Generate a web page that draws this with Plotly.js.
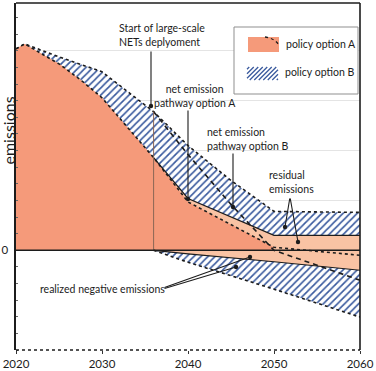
<!DOCTYPE html>
<html><head><meta charset="utf-8">
<script src="https://cdn.plot.ly/plotly-3.0.1.min.js"></script>
<style>html,body{margin:0;padding:0;background:#fff}</style>
</head><body><div id="chart" style="width:376px;height:371px"></div>
<script>
// ---- data (conceptual emissions units; gridline spacing = 1) ----
const years  = [2020, 2021, 2025, 2027.5, 2030, 2033, 2036, 2040, 2050, 2060];
const grossA = [4.04, 4.14, 3.74, 3.42, 3.06, 2.46, 1.86, 1.04, 0.30, 0.30];
const netA   = [4.04, 4.14, 3.74, 3.42, 3.06, 2.46, 1.86, 0.97, 0.06, -0.10];
const yearsB = [2020, 2021, 2025, 2030, 2033, 2036, 2040, 2045, 2050, 2060];
const grossB = [4.04, 4.14, 3.88, 3.58, 3.18, 2.78, 2.10, 1.40, 0.78, 0.76];
const netYears = [2036, 2040, 2045, 2050, 2060];
const netB   = [2.78, 1.92, 0.92, 0.00, -0.60];
const negYears = [2036, 2040, 2050, 2060];
const negA   = [0, -0.07, -0.23, -0.40];
const negB   = [0, -0.24, -0.78, -1.34];
const netsStart = 2036;
const xTicks = [2020, 2030, 2040, 2050, 2060];
const yTicks = [0, 1, 2, 3, 4];
const yTickText = ['0', '', '', '', ''];

// ---- styles ----
const DARK = '#F59A7A', LIGHT = '#F9C3A4', BLUE = '#3A5A9E', INK = '#1c1c1c';
const hatch = {shape: '/', fgcolor: BLUE, bgcolor: 'white', size: 5, solidity: 0.33, fillmode: 'replace'};

// pixel -> paper helpers for layout decorations
const L = 16, R = 360, T = 3, B = 350;
const PX = p => (p - L) / (R - L);
const PY = p => (B - p) / (B - T);

const traces = [
  {x: yearsB, y: grossB, mode: 'lines', line: {width: 0}, fill: 'tozeroy', fillcolor: 'white', fillpattern: hatch, hoverinfo: 'skip'},
  {x: negYears, y: negB, mode: 'lines', line: {width: 0}, fill: 'tozeroy', fillcolor: 'white', fillpattern: hatch, hoverinfo: 'skip'},
  {x: years, y: grossA, mode: 'lines', line: {width: 0}, fill: 'tozeroy', fillcolor: LIGHT},
  {x: negYears, y: negA, mode: 'lines', line: {width: 0}, fill: 'tozeroy', fillcolor: LIGHT},
  {x: years.slice(0, 9), y: netA.slice(0, 9), mode: 'lines', line: {width: 0}, fill: 'tozeroy', fillcolor: DARK},
  // boundary lines
  {x: yearsB, y: grossB, mode: 'lines', line: {color: INK, width: 1.6, dash: 'dot'}},
  {x: negYears, y: negB, mode: 'lines', line: {color: INK, width: 1.6, dash: 'dot'}},
  {x: years.slice(6), y: grossA.slice(6), mode: 'lines', line: {color: INK, width: 1.2}},
  {x: negYears, y: negA, mode: 'lines', line: {color: INK, width: 1.2}},
  {x: years, y: netA, mode: 'lines', line: {color: INK, width: 1.6, dash: 'dot'}},
  {x: netYears, y: netB, mode: 'lines', line: {color: INK, width: 1.6, dash: '5px,4px'}}
];

function stripes(x0, y0, x1, y1, step) {
  let d = '';
  for (let c = x0 + y0 + step / 2; c < x1 + y1; c += step) {
    const xa = Math.max(x0, c - y1), xb = Math.min(x1, c - y0);
    if (xb <= xa) continue;
    d += `M${PX(xa)},${PY(c - xa)}L${PX(xb)},${PY(c - xb)}`;
  }
  return d;
}

const shapes = [
  // start of NETs deployment marker
  {type: 'line', xref: 'x', yref: 'y', x0: netsStart, x1: netsStart, y0: 0, y1: grossB[yearsB.indexOf(netsStart)], line: {color: '#8a6656', width: 1}},
  // zero line
  {type: 'line', xref: 'paper', yref: 'y', x0: 0, x1: 1, y0: 0, y1: 0, line: {color: INK, width: 1.6}},
  // frame
  {type: 'line', xref: 'paper', yref: 'paper', x0: 0, x1: 1, y0: 1, y1: 1, line: {color: INK, width: 1.6}},
  {type: 'line', xref: 'paper', yref: 'paper', x0: 1, x1: 1, y0: 0, y1: 1, line: {color: INK, width: 1.6}},
  {type: 'line', xref: 'paper', yref: 'paper', x0: 0, x1: 1, y0: 0, y1: 0, line: {color: INK, width: 1.4, dash: 'dot'}},
  // legend box
  {type: 'rect', xref: 'paper', yref: 'paper', x0: PX(234), x1: PX(358), y0: PY(94), y1: PY(27), fillcolor: 'white', line: {color: '#8f8f8f', width: 1}},
  {type: 'rect', xref: 'paper', yref: 'paper', x0: PX(248), x1: PX(279), y0: PY(52), y1: PY(37), fillcolor: DARK, line: {width: 0}},
  {type: 'path', xref: 'paper', yref: 'paper', path: `M${PX(265)},${PY(37)}Q${PX(274)},${PY(38)} ${PX(279)},${PY(45)}`, line: {color: INK, width: 1.3, dash: 'dot'}},
  {type: 'path', xref: 'paper', yref: 'paper', path: stripes(247, 67, 278, 80, 4.5), line: {color: BLUE, width: 1.3}}
];

const txt = (text, px, py, xanchor, align, extra) => Object.assign({
  text, xref: 'paper', yref: 'paper', x: PX(px), y: PY(py), xanchor, yanchor: 'middle',
  align, showarrow: false, font: {size: 10.5, color: INK}
}, extra || {});
const arr = (hx, hy, tx, ty) => ({
  text: '', xref: 'paper', yref: 'paper', x: PX(hx), y: PY(hy), ax: tx - hx, ay: ty - hy,
  showarrow: true, arrowhead: 6, arrowsize: 1, arrowwidth: 1.1, arrowcolor: INK
});

const annotations = [
  txt('Start of large-scale<br>NETs deplyoment', 117, 35.5, 'left', 'left'),
  txt('net emission<br>pathway option A', 195, 95.5, 'center', 'center'),
  txt('net emission<br>pathway option B', 205, 139, 'left', 'left'),
  txt('residual<br>emissions', 267, 182, 'left', 'left'),
  txt('realized negative emissions', 102, 289, 'center', 'center'),
  txt('policy option A', 284, 44.5, 'left', 'left'),
  txt('policy option B', 283, 72.5, 'left', 'left'),
  txt('emissions', 7.5, 131, 'center', 'center', {textangle: -90, font: {size: 16, color: INK}, borderpad: 0}),
  arr(151, 106, 151, 50),
  arr(188, 199, 188, 109),
  arr(233, 207, 233, 152),
  arr(285, 227, 290, 197),
  arr(298, 242, 290, 197),
  arr(250, 257, 163, 288),
  arr(236, 267, 163, 289)
];

const layout = {
  width: 376, height: 371,
  margin: {l: L, r: 376 - R, t: T, b: 371 - B},
  paper_bgcolor: 'white', plot_bgcolor: 'white',
  showlegend: false,
  font: {family: 'Lato, "Open Sans", sans-serif', color: INK},
  xaxis: {range: [2020, 2060], tickmode: 'array', tickvals: xTicks, ticks: 'outside', ticklen: 3,
          tickcolor: '#333', tickfont: {size: 11.5, color: INK}, showgrid: false, zeroline: false,
          showline: false, fixedrange: true},
  yaxis: {range: [-2, 4.96], tickmode: 'array', tickvals: yTicks, ticktext: yTickText,
          ticks: '', tickfont: {size: 11.5, color: INK}, ticklabelstandoff: 4,
          showgrid: true, gridcolor: '#e4e4e4', gridwidth: 1, zeroline: false,
          showline: true, linecolor: INK, linewidth: 1.6, fixedrange: true,
          minor: {tickmode: 'linear', tick0: 0, dtick: 1/3, ticks: 'inside', ticklen: 2, tickcolor: '#666', showgrid: false}},
  shapes, annotations
};

Plotly.newPlot('chart', traces, layout, {staticPlot: true, displayModeBar: false});
</script></body></html>
